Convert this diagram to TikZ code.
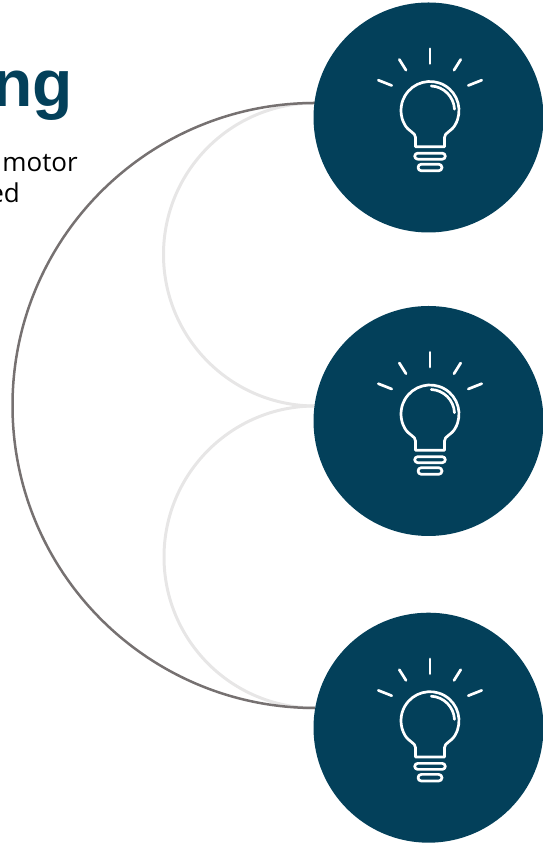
\documentclass[tikz,border=0pt]{standalone}
\usepackage{fontspec}
\setmainfont{Liberation Sans}
\newfontfamily\bodyfont{Open Sans}
\definecolor{bulbteal}{HTML}{03405A}
\definecolor{arcdark}{HTML}{767171}
\definecolor{arclight}{HTML}{E7E6E6}
\tikzset{
  hub/.style={circle, fill=bulbteal, minimum size=230pt, inner sep=0pt},
  darkarc/.style={draw=arcdark, line width=2.5pt},
  lightarc/.style={draw=arclight, line width=3pt},
  icon/.style={draw=white, line width=2.7pt, line cap=round, line join=round},
  bulb/.pic={
    \draw[icon] (0,54) -- (0,68.7);
    \draw[icon] (-24,47.3) -- (-30.7,58);
    \draw[icon] (24,47.3) -- (30.7,58);
    \draw[icon] (-38.3,32) -- (-51.7,37.3);
    \draw[icon] (38.3,32) -- (51.7,37.3);
    \draw[icon] (14.5,-29.3) -- (14.5,-20) .. controls (14.5,-15) and (21.1,-14.4) .. (25.1,-7.5)
       arc[start angle=-30, end angle=210, radius=29]
       .. controls (-21.1,-14.4) and (-14.5,-15) .. (-14.5,-20) -- (-14.5,-29.3) -- cycle;
    \draw[icon, rounded corners=3pt] (-15.3,-41.7) rectangle (15.3,-35.7);
    \draw[icon, rounded corners=3.3pt] (-12,-53.3) rectangle (12,-46.7);
    \draw[icon] (1.3,31.5) arc[start angle=87, end angle=3, radius=24.5];
  },
  bodytext/.style={anchor=base east, inner sep=0pt, text=black, font=\bodyfont\fontsize{26pt}{32pt}\selectfont},
  titletext/.style={anchor=base east, inner sep=0pt, text=bulbteal, font=\bfseries\fontsize{66pt}{70pt}\selectfont}
}
\begin{document}
\begin{tikzpicture}[x=1pt,y=1pt]
\useasboundingbox (0,0) rectangle (542,845);
% junctions on the circles
\coordinate (j1) at (315,742);
\coordinate (j2) at (315,439);
\coordinate (j3) at (315,137);
% connectors
\draw[lightarc] (j1) arc[start angle=90, end angle=270, radius=151.5];
\draw[lightarc] (j2) arc[start angle=90, end angle=270, radius=151];
\draw[darkarc] (j1) arc[start angle=90, end angle=270, radius=302.5];
% circles
\node[hub] (c1) at (428.5,727.5) {};
\node[hub] (c2) at (428.5,424) {};
\node[hub] (c3) at (428.5,117.3) {};
\pic at (430,727.5) {bulb};
\pic at (430,424) {bulb};
\pic at (430,117.3) {bulb};
% texts
\node[titletext] (title) at (73,738) {ng};
\node[bodytext] (l1) at (78,673) {motor};
\node[bodytext] (l2) at (20,642.5) {ed};
\end{tikzpicture}
\end{document}
